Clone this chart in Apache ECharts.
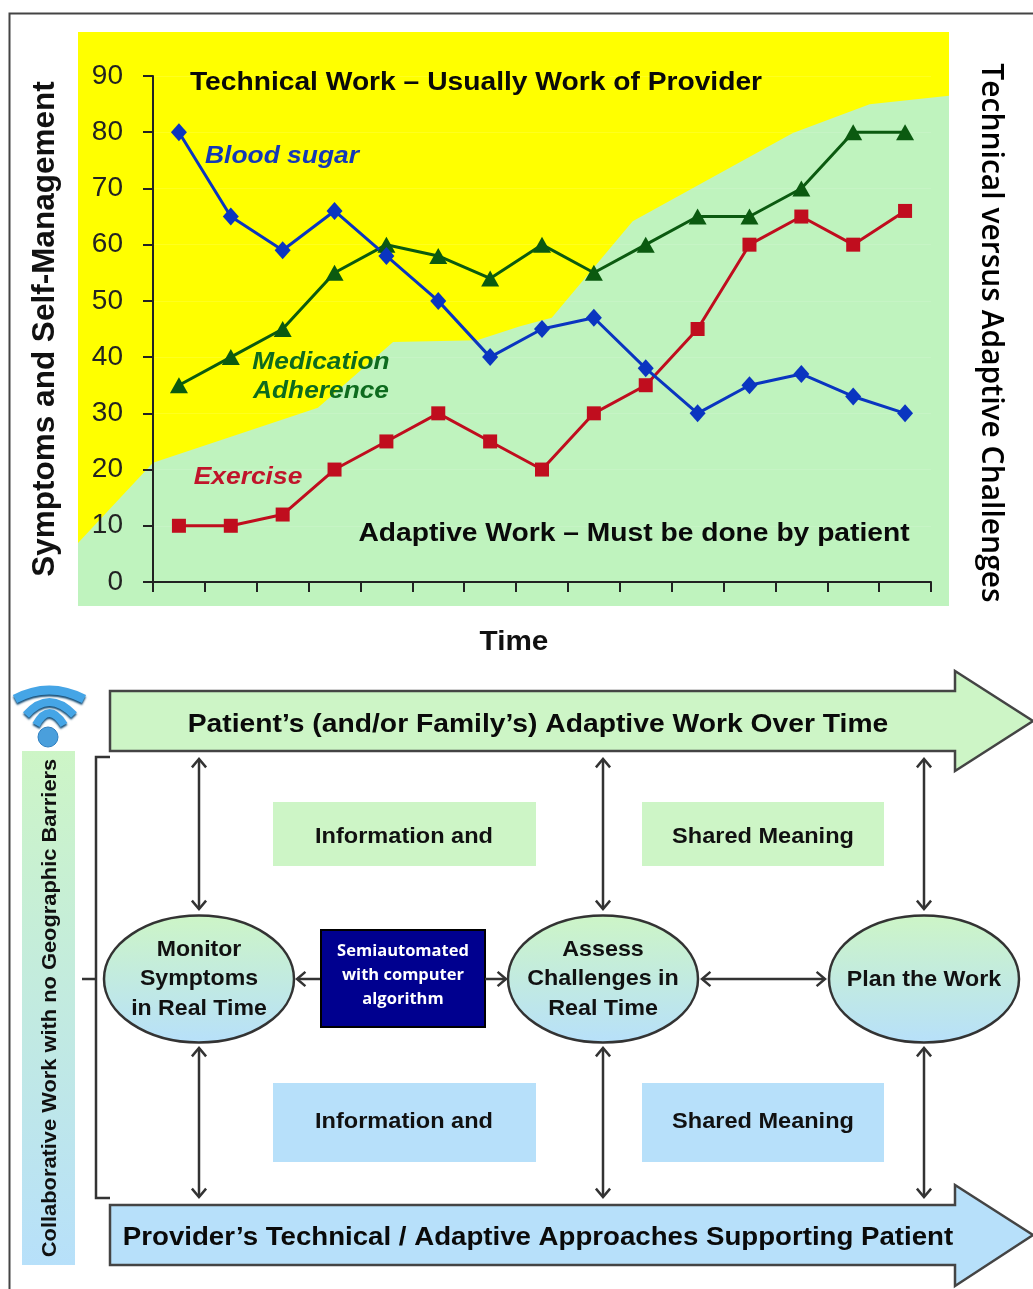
<!DOCTYPE html>
<html>
<head>
<meta charset="utf-8">
<style>
html, body { margin: 0; padding: 0; background: #fff; }
#main { width: 1033px; height: 1289px; }
</style>
<script src="https://cdn.jsdelivr.net/npm/echarts@6/dist/echarts.min.js"></script>
</head>
<body>
<div id="main"></div>
<script>
var myChart = echarts.init(document.getElementById('main'));

var timeLabels = ['1', '2', '3', '4', '5', '6', '7', '8', '9', '10', '11', '12', '13', '14', '15'];
var bloodSugar = [80, 65, 59, 66, 58, 50, 40, 45, 47, 38, 30, 35, 37, 33, 30];
var medication = [35, 40, 45, 55, 60, 58, 54, 60, 55, 60, 65, 65, 70, 80, 80];
var exercise = [10, 10, 12, 20, 25, 30, 25, 20, 30, 35, 45, 60, 65, 60, 66];

// top edge of the green "adaptive work" area: time position (0 = y axis), score
var adaptiveTime = [-1.45, 0, 3.18, 4.63, 6.25, 7.08, 7.69, 9.25, 12.34, 13.82, 15.35];
var adaptiveScore = [6.9, 21.2, 31, 42.7, 43, 45.5, 47, 64.2, 79.9, 85, 86.5];

var circleTexts = ['Monitor\nSymptoms\nin Real Time', 'Assess\nChallenges in\nReal Time', 'Plan the Work'];
var boxText = 'Semiautomated\nwith computer\nalgorithm';

var boldFont = '"Liberation Sans", Arial, sans-serif';
var softGreen = '#cdf5c6';
var softBlue = '#b7e0fa';
var lineGrey = '#333';

var adaptiveEdge = adaptiveTime.map(function (t, i) {
    return [t, adaptiveScore[i]];
});

function label(text, x, y, size, color, extra) {
    return {
        type: 'text',
        z: 20,
        x: x,
        y: y,
        rotation: (extra && extra.rotation) || 0,
        scaleX: (extra && extra.scaleX) || 1,
        style: {
            text: text,
            x: 0,
            y: 0,
            fill: color,
            font: (extra && extra.font) || ('bold ' + size + 'px ' + boldFont),
            align: 'center',
            verticalAlign: 'middle',
            lineHeight: extra && extra.lineHeight
        }
    };
}

// line with open arrow heads, on the end and optionally the start
function arrow(x1, y1, x2, y2, both) {
    var a = Math.atan2(y2 - y1, x2 - x1);
    var s = 11, w = 0.7;
    function head(x, y, ang) {
        return {
            type: 'polyline',
            z: 15,
            shape: {
                points: [
                    [x - s * Math.cos(ang - w), y - s * Math.sin(ang - w)],
                    [x, y],
                    [x - s * Math.cos(ang + w), y - s * Math.sin(ang + w)]
                ]
            },
            style: { stroke: lineGrey, lineWidth: 2.5, fill: null }
        };
    }
    var out = [{
        type: 'line',
        z: 15,
        shape: { x1: x1, y1: y1, x2: x2, y2: y2 },
        style: { stroke: lineGrey, lineWidth: 2.5 }
    }, head(x2, y2, a)];
    if (both) {
        out.push(head(x1, y1, a + Math.PI));
    }
    return out;
}

function bigArrow(top, bottom, headTop, headBottom, fill) {
    var mid = (top + bottom) / 2;
    return {
        type: 'polygon',
        z: 10,
        shape: {
            points: [[110, top], [955, top], [955, headTop], [1033, mid], [955, headBottom], [955, bottom], [110, bottom]]
        },
        style: { fill: fill, stroke: '#444', lineWidth: 2.5 }
    };
}

function box(x, y, w, h, fill) {
    return {
        type: 'rect',
        z: 10,
        shape: { x: x, y: y, width: w, height: h },
        style: { fill: fill }
    };
}

function circle(cx, cy) {
    return {
        type: 'ellipse',
        z: 12,
        shape: { cx: cx, cy: cy, rx: 95, ry: 63.5 },
        style: {
            fill: new echarts.graphic.LinearGradient(0, 0, 0, 1, [
                { offset: 0, color: softGreen },
                { offset: 1, color: softBlue }
            ]),
            stroke: lineGrey,
            lineWidth: 2.5
        }
    };
}

function wifiBand(x1, x2, y, cpy, width) {
    return {
        type: 'bezierCurve',
        z: 12,
        shape: { x1: x1, y1: y, x2: x2, y2: y, cpx1: 49, cpy1: cpy },
        style: { stroke: '#45a5e6', lineWidth: width, fill: null, shadowColor: '#174f78', shadowBlur: 2, shadowOffsetY: 2 }
    };
}

var elements = [
    // outer frame
    { type: 'polyline', z: 1, shape: { points: [[9.5, 1289], [9.5, 13.5], [1033, 13.5]] }, style: { stroke: '#444', lineWidth: 2, fill: null } },

    // chart texts
    label('Technical Work \u2013 Usually Work of Provider', 476, 83, 26, '#0a0a0a', { scaleX: 1.085 }),
    label('Adaptive Work \u2013 Must be done by patient', 634, 534, 26, '#0a0a0a', { scaleX: 1.085 }),
    label('Blood sugar', 282, 156, 24, '#1338b8', { font: 'italic bold 24px ' + boldFont, scaleX: 1.1 }),
    label('Medication\nAdherence', 321, 377, 24, '#0d6b1e', { font: 'italic bold 24px ' + boldFont, lineHeight: 28.5, scaleX: 1.095 }),
    label('Exercise', 248, 477, 24, '#c0142a', { font: 'italic bold 24px ' + boldFont, scaleX: 1.1 }),
    label('Time', 514, 643, 27, '#111', { scaleX: 1.1 }),
    label('Technical versus Adaptive Challenges', 991, 333, 30, '#000', { rotation: -Math.PI / 2, font: '600 30px "Open Sans", sans-serif' }),

    // left strip and wifi sign
    {
        type: 'rect',
        z: 5,
        shape: { x: 22, y: 751, width: 53, height: 514 },
        style: {
            fill: new echarts.graphic.LinearGradient(0, 0, 0, 1, [
                { offset: 0, color: softGreen },
                { offset: 1, color: softBlue }
            ])
        }
    },
    label('Collaborative Work with no Geographic Barriers', 50, 1008, 21, '#111', { rotation: Math.PI / 2, scaleX: 1.04 }),
    wifiBand(15, 84, 699, 681, 9),
    wifiBand(26, 74, 715, 689, 8),
    wifiBand(36, 64, 725, 701, 8),
    { type: 'circle', z: 12, shape: { cx: 48, cy: 737, r: 10 }, style: { fill: '#4a9fdc', stroke: '#2f7fc0', lineWidth: 1 } },

    // bracket
    { type: 'polyline', z: 10, shape: { points: [[110, 757], [96, 757], [96, 1198], [110, 1198]] }, style: { stroke: lineGrey, lineWidth: 2.5, fill: null } },
    { type: 'line', z: 10, shape: { x1: 82, y1: 979, x2: 96, y2: 979 }, style: { stroke: lineGrey, lineWidth: 2.5 } },

    // long arrows
    bigArrow(691, 751, 671, 771, softGreen),
    bigArrow(1205, 1265, 1185, 1286, softBlue),
    label('Patient\u2019s (and/or Family\u2019s) Adaptive Work Over Time', 538, 725, 26, '#0a0a0a', { scaleX: 1.087 }),
    label('Provider\u2019s Technical / Adaptive Approaches Supporting Patient', 538, 1238, 26, '#0a0a0a', { scaleX: 1.063 }),

    // shaded boxes
    box(273, 802, 263, 64, softGreen),
    box(642, 802, 242, 64, softGreen),
    box(273, 1083, 263, 79, softBlue),
    box(642, 1083, 242, 79, softBlue),
    label('Information and', 404, 837, 22, '#111', { scaleX: 1.07 }),
    label('Shared Meaning', 763, 837, 22, '#111', { scaleX: 1.07 }),
    label('Information and', 404, 1122, 22, '#111', { scaleX: 1.07 }),
    label('Shared Meaning', 763, 1122, 22, '#111', { scaleX: 1.07 }),

    // the three steps
    circle(199, 979),
    circle(603, 979),
    circle(924, 979),
    label(circleTexts[0], 199, 979, 22, '#111', { lineHeight: 29.5, scaleX: 1.05 }),
    label(circleTexts[1], 603, 979, 22, '#111', { lineHeight: 29.5, scaleX: 1.06 }),
    label(circleTexts[2], 924, 980, 22, '#111', { scaleX: 1.055 }),

    // computer algorithm box
    {
        type: 'rect',
        z: 12,
        shape: { x: 321, y: 930, width: 164, height: 97 },
        style: { fill: '#00008f', stroke: '#000', lineWidth: 2 }
    },
    label(boxText, 403, 975, 16.5, '#fff', { font: 'bold 16.5px "Open Sans", sans-serif', lineHeight: 24 })
];

var arrowList = [
    [199, 759, 199, 909, true], [603, 759, 603, 909, true], [924, 759, 924, 909, true],
    [199, 1048, 199, 1197, true], [603, 1048, 603, 1197, true], [924, 1048, 924, 1197, true],
    [320, 979, 297, 979, false], [485, 979, 506, 979, false], [702, 979, 825, 979, true]
];
arrowList.forEach(function (a) {
    elements = elements.concat(arrow(a[0], a[1], a[2], a[3], a[4]));
});

function lineSeries(name, data, symbol, size, color) {
    return {
        name: name,
        type: 'line',
        xAxisIndex: 0,
        yAxisIndex: 0,
        z: 5,
        data: data,
        symbol: symbol,
        symbolSize: size,
        showSymbol: true,
        lineStyle: { color: color, width: 3 },
        itemStyle: { color: color }
    };
}

option = {
    animation: false,
    backgroundColor: '#fff',
    textStyle: { fontFamily: boldFont },
    grid: [{
        left: 153,
        right: 102,
        top: 76,
        bottom: 707
    }, {
        // coloured panel behind the plot
        left: 78,
        right: 84,
        top: 32,
        bottom: 683,
        show: true,
        backgroundColor: '#ffff00',
        borderWidth: 0
    }],
    xAxis: [{
        type: 'category',
        gridIndex: 0,
        z: 3,
        data: timeLabels,
        boundaryGap: true,
        axisLine: { lineStyle: { color: '#222', width: 2 } },
        axisTick: { show: true, interval: 0, alignWithLabel: false, length: 10, lineStyle: { color: '#222', width: 2 } },
        axisLabel: { show: false, interval: 0 },
        splitLine: { show: false }
    }, {
        type: 'value',
        gridIndex: 1,
        min: -1.446,
        max: 15.35,
        show: false
    }],
    yAxis: [{
        type: 'value',
        gridIndex: 0,
        z: 3,
        min: 0,
        max: 90,
        interval: 10,
        name: 'Symptoms and Self-Management',
        nameLocation: 'middle',
        nameGap: 92,
        nameTextStyle: { fontSize: 31.5, fontWeight: 'bold', color: '#111' },
        axisLine: { show: true, lineStyle: { color: '#222', width: 2 } },
        axisTick: { show: true, length: 10, lineStyle: { color: '#222', width: 2 } },
        axisLabel: { fontSize: 28, color: '#222', margin: 30 },
        splitLine: { show: true, lineStyle: { color: 'rgba(255,255,255,0.12)', width: 1 } }
    }, {
        type: 'value',
        gridIndex: 1,
        min: -4.27,
        max: 97.86,
        show: false
    }],
    series: [{
        name: 'Adaptive work',
        type: 'line',
        xAxisIndex: 1,
        yAxisIndex: 1,
        z: 1,
        data: adaptiveEdge,
        symbol: 'none',
        lineStyle: { width: 0 },
        areaStyle: { color: '#bff3be', opacity: 1, origin: 'start' },
        silent: true
    },
    lineSeries('Exercise', exercise, 'rect', 14, '#c00d1e'),
    lineSeries('Medication Adherence', medication, 'triangle', [18, 16], '#0b5a10'),
    lineSeries('Blood sugar', bloodSugar, 'diamond', [16, 18], '#0a35c0')],
    graphic: { elements: elements }
};

myChart.setOption(option);
</script>
</body>
</html>
